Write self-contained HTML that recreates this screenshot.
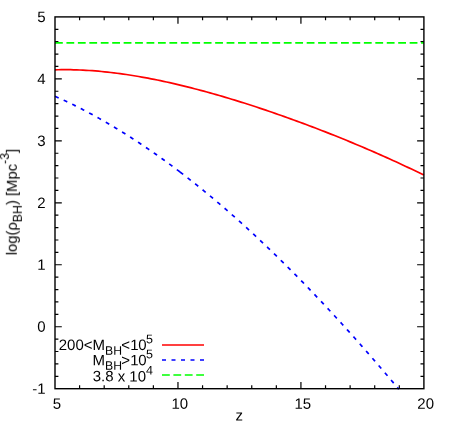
<!DOCTYPE html>
<html><head><meta charset="utf-8"><title>plot</title>
<style>html,body{margin:0;padding:0;background:#fff;}svg{display:block;}text{font-family:"Liberation Sans",sans-serif;fill:#000;}</style></head><body>
<svg width="458" height="426" viewBox="0 0 458 426">
<rect x="0" y="0" width="458" height="426" fill="#fff"/>
<path d="M79.59,388.7 v-3.4 M79.59,16.9 v3.4 M104.19,388.7 v-3.4 M104.19,16.9 v3.4 M128.78,388.7 v-3.4 M128.78,16.9 v3.4 M153.37,388.7 v-3.4 M153.37,16.9 v3.4 M177.97,388.7 v-6.8 M177.97,16.9 v6.8 M202.56,388.7 v-3.4 M202.56,16.9 v3.4 M227.15,388.7 v-3.4 M227.15,16.9 v3.4 M251.75,388.7 v-3.4 M251.75,16.9 v3.4 M276.34,388.7 v-3.4 M276.34,16.9 v3.4 M300.93,388.7 v-6.8 M300.93,16.9 v6.8 M325.53,388.7 v-3.4 M325.53,16.9 v3.4 M350.12,388.7 v-3.4 M350.12,16.9 v3.4 M374.71,388.7 v-3.4 M374.71,16.9 v3.4 M399.31,388.7 v-3.4 M399.31,16.9 v3.4 M55.0,29.29 h3.4 M423.9,29.29 h-3.4 M55.0,41.69 h3.4 M423.9,41.69 h-3.4 M55.0,54.08 h3.4 M423.9,54.08 h-3.4 M55.0,66.47 h3.4 M423.9,66.47 h-3.4 M55.0,78.87 h6.8 M423.9,78.87 h-6.8 M55.0,91.26 h3.4 M423.9,91.26 h-3.4 M55.0,103.65 h3.4 M423.9,103.65 h-3.4 M55.0,116.05 h3.4 M423.9,116.05 h-3.4 M55.0,128.44 h3.4 M423.9,128.44 h-3.4 M55.0,140.83 h6.8 M423.9,140.83 h-6.8 M55.0,153.23 h3.4 M423.9,153.23 h-3.4 M55.0,165.62 h3.4 M423.9,165.62 h-3.4 M55.0,178.01 h3.4 M423.9,178.01 h-3.4 M55.0,190.41 h3.4 M423.9,190.41 h-3.4 M55.0,202.80 h6.8 M423.9,202.80 h-6.8 M55.0,215.19 h3.4 M423.9,215.19 h-3.4 M55.0,227.59 h3.4 M423.9,227.59 h-3.4 M55.0,239.98 h3.4 M423.9,239.98 h-3.4 M55.0,252.37 h3.4 M423.9,252.37 h-3.4 M55.0,264.77 h6.8 M423.9,264.77 h-6.8 M55.0,277.16 h3.4 M423.9,277.16 h-3.4 M55.0,289.55 h3.4 M423.9,289.55 h-3.4 M55.0,301.95 h3.4 M423.9,301.95 h-3.4 M55.0,314.34 h3.4 M423.9,314.34 h-3.4 M55.0,326.73 h6.8 M423.9,326.73 h-6.8 M55.0,339.13 h3.4 M423.9,339.13 h-3.4 M55.0,351.52 h3.4 M423.9,351.52 h-3.4 M55.0,363.91 h3.4 M423.9,363.91 h-3.4 M55.0,376.31 h3.4 M423.9,376.31 h-3.4" stroke="#000" stroke-width="1.2" fill="none"/>
<path d="M55.0,42.93 H423.9" stroke="#00ff00" stroke-width="1.7" stroke-dasharray="7.8 3.64" fill="none"/>
<path d="M55.00,69.80 L58.10,69.73 L61.20,69.69 L64.30,69.67 L67.40,69.68 L70.50,69.72 L73.60,69.79 L76.70,69.88 L79.80,70.00 L82.90,70.14 L86.00,70.31 L89.10,70.50 L92.20,70.71 L95.30,70.95 L98.40,71.21 L101.50,71.50 L104.60,71.80 L107.70,72.13 L110.80,72.48 L113.90,72.85 L117.00,73.24 L120.10,73.65 L123.20,74.08 L126.30,74.53 L129.40,75.00 L132.50,75.49 L135.60,76.00 L138.70,76.52 L141.80,77.06 L144.90,77.62 L148.00,78.20 L151.10,78.79 L154.20,79.40 L157.30,80.03 L160.40,80.67 L163.50,81.33 L166.60,82.00 L169.70,82.69 L172.80,83.39 L175.90,84.11 L179.00,84.84 L182.10,85.58 L185.20,86.34 L188.30,87.11 L191.40,87.90 L194.50,88.70 L197.60,89.51 L200.70,90.33 L203.80,91.17 L206.90,92.01 L210.00,92.87 L213.10,93.74 L216.20,94.63 L219.30,95.52 L222.40,96.43 L225.50,97.34 L228.60,98.27 L231.70,99.20 L234.80,100.15 L237.90,101.11 L241.00,102.08 L244.10,103.05 L247.20,104.04 L250.30,105.04 L253.40,106.05 L256.50,107.06 L259.60,108.09 L262.70,109.12 L265.80,110.17 L268.90,111.22 L272.00,112.28 L275.10,113.35 L278.20,114.43 L281.30,115.52 L284.40,116.62 L287.50,117.72 L290.60,118.84 L293.70,119.96 L296.80,121.09 L299.90,122.23 L303.00,123.38 L306.10,124.53 L309.20,125.70 L312.30,126.87 L315.40,128.05 L318.50,129.24 L321.60,130.44 L324.70,131.65 L327.80,132.86 L330.90,134.09 L334.00,135.32 L337.10,136.56 L340.20,137.81 L343.30,139.07 L346.40,140.33 L349.50,141.61 L352.60,142.89 L355.70,144.18 L358.80,145.49 L361.90,146.80 L365.00,148.12 L368.10,149.45 L371.20,150.78 L374.30,152.13 L377.40,153.49 L380.50,154.86 L383.60,156.23 L386.70,157.62 L389.80,159.02 L392.90,160.42 L396.00,161.84 L399.10,163.27 L402.20,164.71 L405.30,166.16 L408.40,167.62 L411.50,169.09 L414.60,170.57 L417.70,172.06 L420.80,173.57 L423.90,175.09" stroke="#ff0000" stroke-width="1.7" fill="none"/>
<path d="M55.00,96.27 L56.05,96.74 L57.10,97.20 L58.15,97.68 L59.20,98.15 L60.25,98.63 L61.30,99.10 L62.35,99.59 L63.40,100.07 L64.45,100.56 L65.50,101.05 L66.55,101.55 L67.61,102.05 L68.66,102.55 L69.71,103.05 L70.76,103.56 L71.81,104.07 L72.86,104.58 L73.91,105.10 L74.96,105.62 L76.01,106.14 L77.06,106.66 L78.11,107.19 L79.16,107.72 L80.21,108.26 L81.26,108.79 L82.31,109.33 L83.36,109.88 L84.41,110.42 L85.46,110.97 L86.51,111.52 L87.56,112.08 L88.61,112.63 L89.66,113.19 L90.71,113.76 L91.76,114.32 L92.82,114.89 L93.87,115.47 L94.92,116.04 L95.97,116.62 L97.02,117.20 L98.07,117.78 L99.12,118.37 L100.17,118.96 L101.22,119.55 L102.27,120.15 L103.32,120.75 L104.37,121.35 L105.42,121.95 L106.47,122.56 L107.52,123.17 L108.57,123.78 L109.62,124.40 L110.67,125.02 L111.72,125.64 L112.77,126.26 L113.82,126.89 L114.87,127.52 L115.92,128.15 L116.97,128.79 L118.03,129.43 L119.08,130.07 L120.13,130.71 L121.18,131.36 L122.23,132.01 L123.28,132.66 L124.33,133.32 L125.38,133.98 L126.43,134.64 L127.48,135.30 L128.53,135.97 L129.58,136.64 L130.63,137.31 L131.68,137.99 L132.73,138.67 L133.78,139.35 L134.83,140.03 L135.88,140.72 L136.93,141.40 L137.98,142.10 L139.03,142.79 L140.08,143.49 L141.13,144.19 L142.18,144.89 L143.24,145.60 L144.29,146.31 L145.34,147.02 L146.39,147.73 L147.44,148.45 L148.49,149.17 L149.54,149.89 L150.59,150.61 L151.64,151.34 L152.69,152.07 L153.74,152.80 L154.79,153.54 L155.84,154.28 L156.89,155.02 L157.94,155.76 L158.99,156.51 L160.04,157.26 L161.09,158.01 L162.14,158.76 L163.19,159.52 L164.24,160.28 L165.29,161.04 L166.34,161.81 L167.39,162.57 L168.45,163.34 L169.50,164.12 L170.55,164.89 L171.60,165.67 L172.65,166.45 L173.70,167.23 L174.75,168.02 L175.80,168.81 L176.85,169.60 L177.90,170.39 L178.95,171.19 L180.00,171.99" stroke="#0000ff" stroke-width="1.7" stroke-dasharray="4.0 5.5" fill="none"/>
<path d="M180.00,171.99 L181.84,173.40 L183.68,174.81 L185.52,176.23 L187.35,177.66 L189.19,179.10 L191.03,180.54 L192.87,181.99 L194.71,183.45 L196.55,184.92 L198.39,186.40 L200.23,187.88 L202.06,189.37 L203.90,190.87 L205.74,192.38 L207.58,193.89 L209.42,195.41 L211.26,196.94 L213.10,198.48 L214.93,200.03 L216.77,201.58 L218.61,203.14 L220.45,204.71 L222.29,206.28 L224.13,207.86 L225.97,209.45 L227.81,211.05 L229.64,212.66 L231.48,214.27 L233.32,215.89 L235.16,217.52 L237.00,219.15 L238.84,220.79 L240.68,222.44 L242.51,224.10 L244.35,225.76 L246.19,227.43 L248.03,229.11 L249.87,230.80 L251.71,232.49 L253.55,234.19 L255.38,235.89 L257.22,237.61 L259.06,239.33 L260.90,241.06 L262.74,242.79 L264.58,244.53 L266.42,246.28 L268.26,248.04 L270.09,249.80 L271.93,251.57 L273.77,253.35 L275.61,255.13 L277.45,256.92 L279.29,258.72 L281.13,260.52 L282.96,262.33 L284.80,264.15 L286.64,265.98 L288.48,267.81 L290.32,269.65 L292.16,271.49 L294.00,273.34 L295.84,275.20 L297.67,277.06 L299.51,278.94 L301.35,280.81 L303.19,282.70 L305.03,284.59 L306.87,286.49 L308.71,288.39 L310.54,290.30 L312.38,292.22 L314.22,294.14 L316.06,296.07 L317.90,298.01 L319.74,299.95 L321.58,301.90 L323.42,303.86 L325.25,305.82 L327.09,307.78 L328.93,309.76 L330.77,311.74 L332.61,313.73 L334.45,315.72 L336.29,317.72 L338.12,319.72 L339.96,321.74 L341.80,323.75 L343.64,325.78 L345.48,327.81 L347.32,329.84 L349.16,331.88 L350.99,333.93 L352.83,335.99 L354.67,338.05 L356.51,340.11 L358.35,342.18 L360.19,344.26 L362.03,346.34 L363.87,348.43 L365.70,350.53 L367.54,352.63 L369.38,354.74 L371.22,356.85 L373.06,358.97 L374.90,361.09 L376.74,363.22 L378.57,365.36 L380.41,367.50 L382.25,369.65 L384.09,371.80 L385.93,373.96 L387.77,376.12 L389.61,378.29 L391.45,380.47 L393.28,382.65 L395.12,384.83 L396.96,387.03 L398.80,389.22" stroke="#0000ff" stroke-width="1.7" stroke-dasharray="4.0 5.58" fill="none"/>
<rect x="55.0" y="16.9" width="368.9" height="371.8" fill="none" stroke="#000" stroke-width="1.4"/>
<g opacity="0.999">
<text transform="translate(45.60,22.00) rotate(0.03) scale(1.0,1.0)" font-size="15.0" text-anchor="end">5</text>
<text transform="translate(45.60,83.97) rotate(0.03) scale(1.0,1.0)" font-size="15.0" text-anchor="end">4</text>
<text transform="translate(45.60,145.93) rotate(0.03) scale(1.0,1.0)" font-size="15.0" text-anchor="end">3</text>
<text transform="translate(45.60,207.90) rotate(0.03) scale(1.0,1.0)" font-size="15.0" text-anchor="end">2</text>
<text transform="translate(45.60,269.87) rotate(0.03) scale(1.0,1.0)" font-size="15.0" text-anchor="end">1</text>
<text transform="translate(45.60,331.83) rotate(0.03) scale(1.0,1.0)" font-size="15.0" text-anchor="end">0</text>
<text transform="translate(45.60,393.80) rotate(0.03) scale(1.0,1.0)" font-size="15.0" text-anchor="end">-1</text>
<text transform="translate(56.80,408.80) rotate(0.03) scale(1.0,1.0)" font-size="15.0" text-anchor="middle">5</text>
<text transform="translate(179.77,408.80) rotate(0.03) scale(1.0,1.0)" font-size="15.0" text-anchor="middle">10</text>
<text transform="translate(302.73,408.80) rotate(0.03) scale(1.0,1.0)" font-size="15.0" text-anchor="middle">15</text>
<text transform="translate(425.70,408.80) rotate(0.03) scale(1.0,1.0)" font-size="15.0" text-anchor="middle">20</text>
<text transform="translate(239.20,420.50) rotate(0.03) scale(1.0,1.0)" font-size="15.0" text-anchor="middle">z</text>
<text transform="translate(16.8,255.3) rotate(-89.97) scale(0.987,1)" font-size="15.0" text-anchor="start">log(ρ<tspan font-size="12.5" dy="5.1" dx="0">BH</tspan><tspan dy="-5.1">) [Mpc</tspan><tspan font-size="12.5" dy="-7.6" dx="0">-3</tspan><tspan dy="7.6">]</tspan></text>
<text transform="translate(153.00,350.10) rotate(0.03) scale(1.0,1.0)" font-size="15.0" text-anchor="end">200&lt;M<tspan font-size="12.2" dy="4.6" dx="0">BH</tspan><tspan dy="-4.6" dx="-0.7">&lt;</tspan><tspan dx="0.35" letter-spacing="-0.35">10</tspan><tspan font-size="12.5" dy="-6.9" dx="-0.3">5</tspan></text>
<text transform="translate(153.00,365.25) rotate(0.03) scale(1.0,1.0)" font-size="15.0" text-anchor="end">M<tspan font-size="12.2" dy="4.6" dx="0">BH</tspan><tspan dy="-4.6" dx="-0.7">&gt;</tspan><tspan dx="0.35" letter-spacing="-0.35">10</tspan><tspan font-size="12.5" dy="-6.9" dx="-0.3">5</tspan></text>
<text transform="translate(153.00,381.40) rotate(0.03) scale(1.0,1.0)" font-size="15.0" text-anchor="end">3.8 x 10<tspan font-size="12.5" dy="-6.9" dx="0">4</tspan></text>
</g>
<path d="M162,345.0 H204" stroke="#ff0000" stroke-width="1.7" fill="none"/>
<path d="M162,360.0 H204" stroke="#0000ff" stroke-width="1.7" stroke-dasharray="4.0 5.5" fill="none"/>
<path d="M162,375.0 H204" stroke="#00ff00" stroke-width="1.7" stroke-dasharray="7.8 3.6" fill="none"/>
</svg></body></html>
